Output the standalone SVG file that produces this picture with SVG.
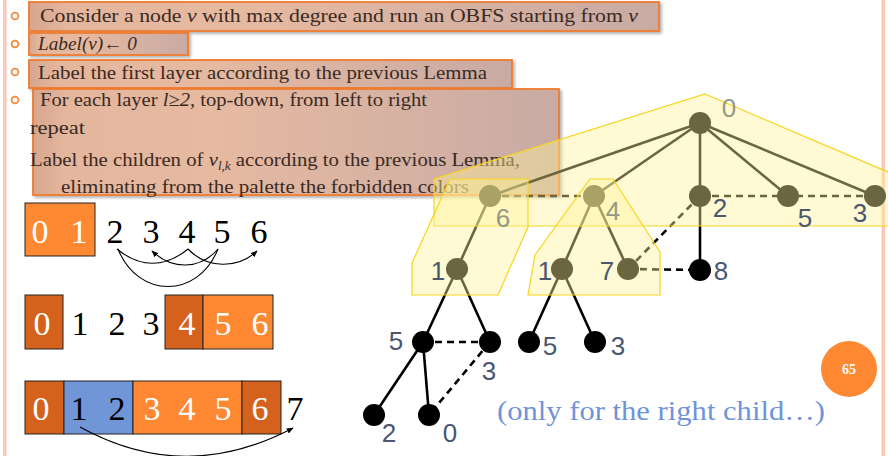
<svg xmlns="http://www.w3.org/2000/svg" width="888" height="456" viewBox="0 0 888 456">
<defs>
  <linearGradient id="boxg" x1="0" y1="0" x2="1" y2="0">
    <stop offset="0" stop-color="#d6a68f"/>
    <stop offset="0.06" stop-color="#e4b69e"/>
    <stop offset="0.35" stop-color="#e6b9a1"/>
    <stop offset="1" stop-color="#c8aba4"/>
  </linearGradient>
  <filter id="sh" x="-5%" y="-20%" width="110%" height="150%">
    <feDropShadow dx="2" dy="2" stdDeviation="1.5" flood-color="#000" flood-opacity="0.3"/>
  </filter>
  <marker id="ah" viewBox="0 0 10 10" refX="9" refY="5" markerWidth="7" markerHeight="7" orient="auto" markerUnits="userSpaceOnUse">
    <path d="M0,1 L10,5 L0,9 z" fill="#000"/>
  </marker>
  <style>
    .tb{fill:url(#boxg);stroke:#f07a2c;stroke-width:1.8;filter:url(#sh)}
    .tt{font-family:"Liberation Serif","Times New Roman",serif;font-size:19px;fill:#3a2a22}
    .it{font-style:italic}
    .bul{fill:none;stroke:#f38a3e;stroke-width:1.8}
    .pd{font-family:"Liberation Serif",serif;font-size:34px;text-anchor:middle}
    .w{fill:#fff}
    .k{fill:#000}
    .org{fill:#ff8833;stroke:#222;stroke-width:1}
    .dk{fill:#d4621c;stroke:#222;stroke-width:1}
    .bl{fill:#7096d8;stroke:#222;stroke-width:1}
    .cv{fill:none;stroke:#000;stroke-width:1.1}
    .e{stroke:#000;stroke-width:2.6;fill:none}
    .d{stroke:#000;stroke-width:2.6;fill:none;stroke-dasharray:7 5}
    .n{fill:#000}
    .poly{fill:#fff398;fill-opacity:0.42;stroke:#f7d41e;stroke-width:1.2}
    .lb{font-family:"Liberation Sans",Arial,sans-serif;font-size:26px;fill:#4b5670;text-anchor:middle}
    .lg{fill:#979788}
  </style>
</defs>
<rect width="888" height="456" fill="#fff"/>
<rect x="3" y="0" width="3.5" height="456" fill="#fcc6b4"/>
<rect x="881.5" y="0" width="3.5" height="456" fill="#fcc6b4"/>

<g id="bullets">
  <circle class="bul" cx="15" cy="16" r="3.4"/>
  <circle class="bul" cx="15" cy="44" r="3.4"/>
  <circle class="bul" cx="15" cy="72" r="3.4"/>
  <circle class="bul" cx="15" cy="100" r="3.4"/>
</g>

<g id="box1">
  <rect class="tb" x="29" y="2" width="630" height="29"/>
  <text class="tt" x="40" y="22" textLength="598" lengthAdjust="spacingAndGlyphs">Consider a node <tspan class="it">v</tspan> with max degree and run an OBFS starting from <tspan class="it">v</tspan></text>
</g>
<g id="box2">
  <rect class="tb" x="29" y="33" width="159" height="22"/>
  <text class="tt it" x="38" y="50" textLength="99" lengthAdjust="spacingAndGlyphs">Label(v)← 0</text>
</g>
<g id="box3">
  <rect class="tb" x="29" y="60" width="483" height="28"/>
  <text class="tt" x="38" y="79" textLength="449" lengthAdjust="spacingAndGlyphs">Label the first layer according to the previous Lemma</text>
</g>
<g id="box4">
  <rect class="tb" x="33" y="89" width="526" height="106"/>
  <text class="tt" x="40" y="106" textLength="387" lengthAdjust="spacingAndGlyphs">For each layer <tspan class="it">l≥2</tspan>, top-down, from left to right</text>
  <text class="tt" x="30" y="134" textLength="55" lengthAdjust="spacingAndGlyphs">repeat</text>
  <text class="tt" x="30" y="166" textLength="490" lengthAdjust="spacingAndGlyphs">Label the children of <tspan class="it">v</tspan><tspan class="it" font-size="12" dy="4">l,k</tspan><tspan dy="-4"> according to the previous Lemma,</tspan></text>
  <text class="tt" x="61" y="193" textLength="408" lengthAdjust="spacingAndGlyphs">eliminating from the palette the forbidden colors</text>
</g>

<g id="palette1">
  <rect class="org" x="25" y="203" width="70" height="53"/>
  <text class="pd w" x="40" y="243">0</text>
  <text class="pd w" x="79" y="243">1</text>
  <text class="pd k" x="115" y="243">2</text>
  <text class="pd k" x="151" y="243">3</text>
  <text class="pd k" x="187" y="243">4</text>
  <text class="pd k" x="222" y="243">5</text>
  <text class="pd k" x="259" y="243">6</text>
</g>
<g id="palette2">
  <rect class="dk" x="25" y="295" width="38" height="54"/>
  <rect class="dk" x="165" y="295" width="38" height="54"/>
  <rect class="org" x="203" y="295" width="70" height="54"/>
  <text class="pd w" x="42" y="335">0</text>
  <text class="pd k" x="80" y="335">1</text>
  <text class="pd k" x="117" y="335">2</text>
  <text class="pd k" x="151" y="335">3</text>
  <text class="pd w" x="187" y="335">4</text>
  <text class="pd w" x="223" y="335">5</text>
  <text class="pd w" x="260" y="335">6</text>
</g>
<g id="palette3">
  <rect class="dk" x="25" y="381" width="39" height="53"/>
  <rect class="bl" x="64" y="381" width="69" height="53"/>
  <rect class="org" x="133" y="381" width="109" height="53"/>
  <rect class="dk" x="242" y="381" width="39" height="53"/>
  <text class="pd w" x="41" y="420">0</text>
  <text class="pd k" x="79" y="420">1</text>
  <text class="pd k" x="117" y="420">2</text>
  <text class="pd w" x="152" y="420">3</text>
  <text class="pd w" x="187" y="420">4</text>
  <text class="pd w" x="223" y="420">5</text>
  <text class="pd w" x="260" y="420">6</text>
  <text class="pd k" x="295" y="420">7</text>
</g>

<g id="palette-arrows">
  <path class="cv" d="M117,249 C140,268 165,268 188,249"/>
  <path class="cv" d="M118,249 C138,299 198,299 218,249"/>
  <path class="cv" d="M218,249 C200,270 172,270 152,251" marker-end="url(#ah)"/>
  <path class="cv" d="M188,249 C207,269 238,269 257,251" marker-end="url(#ah)"/>
  <path class="cv" d="M80,427 Q185,485 293,428" marker-end="url(#ah)"/>
</g>

<g id="connectors">
  <line class="e" x1="700" y1="123" x2="490" y2="196"/>
  <line class="e" x1="700" y1="123" x2="594" y2="196"/>
  <line class="e" x1="700" y1="123" x2="700" y2="196"/>
  <line class="e" x1="700" y1="123" x2="788" y2="196"/>
  <line class="e" x1="700" y1="123" x2="875" y2="196"/>
  <line class="d" x1="490" y1="196" x2="594" y2="196"/>
  <line class="d" x1="700" y1="196" x2="875" y2="196"/>
  <line class="e" x1="490" y1="196" x2="457" y2="269"/>
  <line class="e" x1="594" y1="196" x2="562" y2="269"/>
  <line class="e" x1="594" y1="196" x2="628" y2="269"/>
  <line class="e" x1="700" y1="196" x2="700" y2="269"/>
  <line class="d" x1="700" y1="196" x2="628" y2="269"/>
  <line class="d" x1="628" y1="269" x2="700" y2="270"/>
  <line class="e" x1="457" y1="269" x2="423" y2="342"/>
  <line class="e" x1="457" y1="269" x2="490" y2="342"/>
  <line class="e" x1="562" y1="269" x2="529" y2="342"/>
  <line class="e" x1="562" y1="269" x2="595" y2="342"/>
  <line class="d" x1="423" y1="342" x2="490" y2="342"/>
  <line class="e" x1="423" y1="342" x2="374" y2="415"/>
  <line class="e" x1="423" y1="342" x2="429" y2="415"/>
  <line class="d" x1="490" y1="342" x2="429" y2="415"/>
</g>

<g id="nodes">
  <circle id="n0" class="n" cx="700" cy="123" r="11"/>
  <circle id="n6" class="n" cx="490" cy="196" r="11"/>
  <circle id="n4" class="n" cx="594" cy="196" r="11"/>
  <circle id="n2" class="n" cx="700" cy="196" r="11"/>
  <circle id="n5" class="n" cx="788" cy="196" r="11"/>
  <circle id="n3" class="n" cx="875" cy="196" r="11"/>
  <circle id="n1a" class="n" cx="457" cy="269" r="11"/>
  <circle id="n1b" class="n" cx="562" cy="269" r="11"/>
  <circle id="n7" class="n" cx="628" cy="269" r="11"/>
  <circle id="n8" class="n" cx="700" cy="270" r="11"/>
  <circle id="n5a" class="n" cx="423" cy="342" r="11"/>
  <circle id="n3a" class="n" cx="490" cy="342" r="11"/>
  <circle id="n5b" class="n" cx="529" cy="342" r="11"/>
  <circle id="n3b" class="n" cx="595" cy="342" r="11"/>
  <circle id="n2a" class="n" cx="374" cy="415" r="11"/>
  <circle id="n0a" class="n" cx="429" cy="415" r="11"/>
</g>

<g id="highlights">
  <polygon class="poly" points="705,94 895,175 895,226 434,226 434,179"/>
  <polygon class="poly" points="450,179 528,179 528,227 498,295 412,295 412,263"/>
  <polygon class="poly" points="590,179 613,179 660,252 660,295 528,295 535,255"/>
</g>

<g id="labels">
  <text class="lb lg" x="729" y="117">0</text>
  <text class="lb lg" x="503" y="227">6</text>
  <text class="lb lg" x="613" y="220">4</text>
  <text class="lb" x="720" y="217">2</text>
  <text class="lb" x="805" y="227">5</text>
  <text class="lb" x="860" y="222">3</text>
  <text class="lb" x="438" y="280">1</text>
  <text class="lb" x="545" y="280">1</text>
  <text class="lb" x="607" y="280">7</text>
  <text class="lb" x="721" y="280">8</text>
  <text class="lb" x="396" y="350">5</text>
  <text class="lb" x="489" y="380">3</text>
  <text class="lb" x="550" y="355">5</text>
  <text class="lb" x="618" y="355">3</text>
  <text class="lb" x="389" y="442">2</text>
  <text class="lb" x="450" y="442">0</text>
</g>

<g id="note">
  <text x="497" y="420" font-family="Liberation Serif, serif" font-size="27" fill="#6f93d8" textLength="328" lengthAdjust="spacingAndGlyphs">(only for the right child…)</text>
</g>

<g id="slide-number">
  <circle cx="849" cy="369" r="28" fill="#ff8833"/>
  <text x="849" y="374" font-family="Liberation Serif, serif" font-size="14" font-weight="bold" fill="#fff" text-anchor="middle">65</text>
</g>
</svg>
